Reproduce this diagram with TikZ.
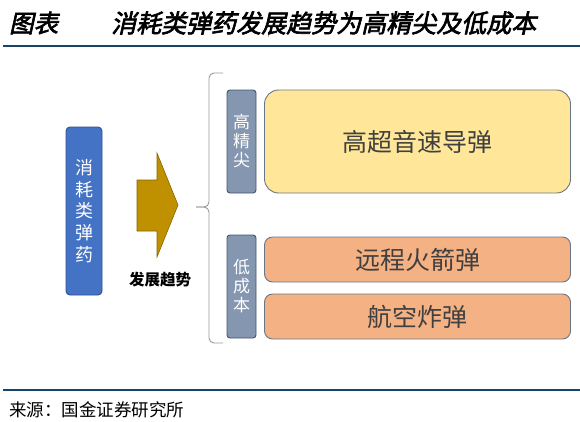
\documentclass[tikz,border=0pt]{standalone}
\usepackage{fontspec}
\setmainfont{Noto Sans CJK SC}
\newfontfamily\titlefont{Noto Sans CJK SC}[FakeSlant=0.22,FakeBold=2.5]
\definecolor{lineblue}{RGB}{23,70,105}
\definecolor{boxblue}{RGB}{68,114,196}
\definecolor{boxblueline}{RGB}{47,82,143}
\definecolor{slate}{RGB}{132,150,176}
\definecolor{slateline}{RGB}{68,84,106}
\definecolor{pale}{RGB}{255,230,153}
\definecolor{peach}{RGB}{244,177,131}
\definecolor{gold}{RGB}{191,144,0}
\definecolor{txtgray}{RGB}{64,64,64}
\tikzset{
  vbox/.style={draw=slateline, fill=slate, rounded corners=3pt, line width=0.9pt,
    text=white, font=\fontsize{17}{19}\selectfont, align=center,
    minimum width=29pt, minimum height=103pt, inner sep=0pt},
  itembox/.style={draw=slateline!80, line width=0.9pt, text=txtgray,
    font=\fontsize{25}{28}\selectfont, minimum width=306pt, inner sep=0pt}
}
\begin{document}
\begin{tikzpicture}[x=1pt, y=-1pt]
  \useasboundingbox (0,0) rectangle (580,421);
  % titulo
  \node[anchor=west, inner sep=0pt, font=\titlefont\fontsize{24.5}{26}\selectfont] (tfig) at (9,23) {图表};
  \node[anchor=west, inner sep=0pt, font=\titlefont\fontsize{25}{26}\selectfont] (title) at (111,23) {消耗类弹药发展趋势为高精尖及低成本};
  \draw[lineblue, line width=1.6pt] (3,46) -- (580,46);
  % consumibles
  \node[draw=boxblueline, fill=boxblue, rounded corners=4pt, line width=0.9pt, text=white,
    font=\fontsize{18}{21.7}\selectfont, align=center, minimum width=36pt, minimum height=168pt,
    inner sep=0pt] (consumo) at (84,211) {消\\耗\\类\\弹\\药};
  % flecha
  \draw[fill=gold, draw=gold!70!black, line width=0.6pt]
    (137,180) -- (157,180) -- (157,153) -- (178,205) -- (157,257) -- (157,231) -- (137,231) -- cycle;
  \node[font=\fontsize{15.5}{17}\selectfont\bfseries] (trend) at (160,280) {发展趋势};
  % llave
  \draw[gray!80, line width=0.9pt, rounded corners=5pt]
    (223,73) -- (209,73) -- (209,207) -- (196,207);
  \draw[gray!80, line width=0.9pt, rounded corners=5pt]
    (196,207) -- (209,207) -- (209,343) -- (223,343);
  % alta precision
  \node[vbox] (gjj) at (241.5,141.5) {高\\精\\尖};
  \node[itembox, fill=pale, rounded corners=14pt, minimum height=103pt] (hyper) at (417.5,141.5) {高超音速导弹};
  % bajo coste
  \node[vbox] (dcb) at (241.5,286.5) {低\\成\\本};
  \node[itembox, fill=peach, rounded corners=8pt, minimum height=45pt] (rocket) at (417.5,259.5) {远程火箭弹};
  \node[itembox, fill=peach, rounded corners=8pt, minimum height=45pt] (bomb) at (417.5,316.5) {航空炸弹};
  % fuente
  \draw[lineblue, line width=1.3pt] (3,390) -- (580,390);
  \node[anchor=west, inner sep=0pt, font=\fontsize{17.5}{19}\selectfont] (src) at (9,410) {来源：国金证券研究所};
\end{tikzpicture}
\end{document}
